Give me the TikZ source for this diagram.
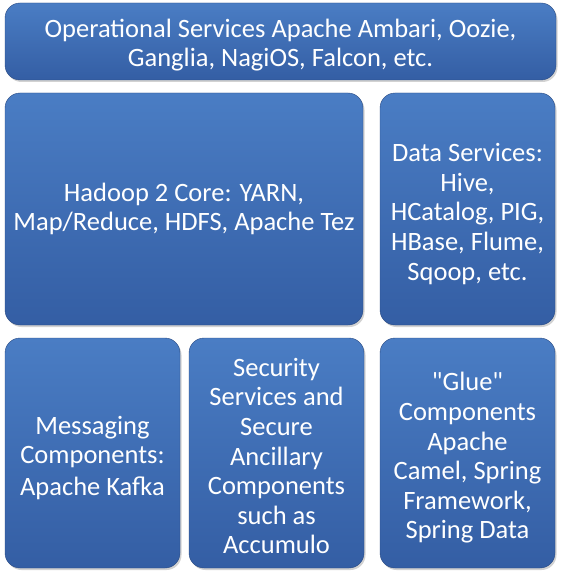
\documentclass[tikz,border=0pt]{standalone}
\usepackage{fontspec}
\setmainfont{Carlito}[Ligatures=TeXOff]
\usetikzlibrary{shadows}
\definecolor{boxtop}{RGB}{74, 125, 196}
\definecolor{boxbot}{RGB}{52, 94, 164}

\begin{document}
\begin{tikzpicture}[x=1pt, y=-1pt,
    block/.style={rounded corners=15pt, top color=boxtop, bottom color=boxbot,
        draw=boxbot!80!black, line width=0.4pt, inner sep=0pt,
        drop shadow={shadow xshift=1.5pt, shadow yshift=-2pt, opacity=0.35}},
    txt/.style={text=white, align=center, inner sep=0pt,
        font=\fontsize{26.5}{29.6}\selectfont}]
                    \useasboundingbox[fill=white] (0,0) rectangle (560,575);
                    % boxes
                    \node[block, minimum width=551pt, minimum height=77pt] (ops) at (280.5,41.5) {};
                    \node[block, minimum width=358pt, minimum height=232pt] (core) at (184,209) {};
                    \node[block, minimum width=175pt, minimum height=232pt] (data) at (467.5,209) {};
                    \node[block, minimum width=175pt, minimum height=230pt] (msg) at (92.5,453) {};
                    \node[block, minimum width=175pt, minimum height=230pt] (sec) at (276.5,453) {};
                    \node[block, minimum width=175pt, minimum height=230pt] (glue) at (467.5,453) {};
                    % texts
                    \node[txt] (ops-t) at ([yshift=-3.5pt]ops.center) {Operational Services Apache Ambari, Oozie,\\Ganglia, NagiOS, Falcon, etc.};
                    \node[txt] (core-t) at (core.center) {Hadoop 2 Core: YARN,\\Map/Reduce, HDFS, Apache Tez};
                    \node[txt] (data-t) at ([yshift=-5pt]data.center) {Data Services:\\Hive,\\HCatalog, PIG,\\HBase, Flume,\\Sqoop, etc.};
                    \node[txt] (msg-t) at ([yshift=-5pt]msg.center) {Messaging\\Components:\\[2pt]Apache Kafka};
                    \node[txt] (sec-t) at ([yshift=-3pt]sec.center) {Security\\Services and\\Secure\\Ancillary\\Components\\such as\\Accumulo};
                    \node[txt] (glue-t) at ([yshift=-5pt]glue.center) {"Glue"\\Components\\Apache\\Camel, Spring\\Framework,\\Spring Data};
                \end{tikzpicture}
\end{document}
